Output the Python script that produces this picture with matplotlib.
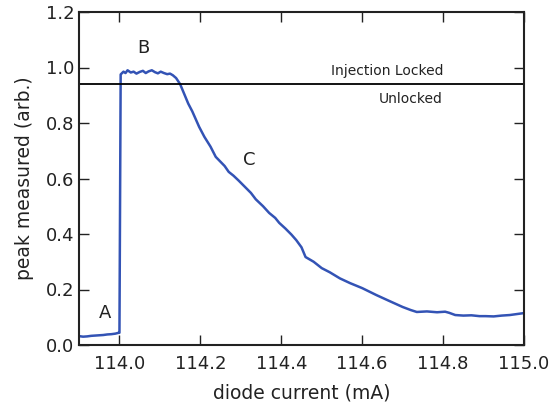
import matplotlib
matplotlib.use("Agg")
import matplotlib.pyplot as plt

current_mA = [113.900, 113.910, 113.920, 113.930, 113.940, 113.950, 113.960, 113.970,
              113.980, 113.990, 113.998, 114.000, 114.003, 114.010, 114.015, 114.020,
              114.028, 114.035, 114.042, 114.050, 114.058, 114.065, 114.072, 114.080,
              114.088, 114.095, 114.102, 114.110, 114.118, 114.125, 114.132, 114.140,
              114.150, 114.160, 114.170, 114.180, 114.197, 114.210, 114.225, 114.238,
              114.250, 114.260, 114.270, 114.282, 114.295, 114.310, 114.325, 114.337,
              114.355, 114.370, 114.385, 114.395, 114.410, 114.425, 114.437, 114.450,
              114.460, 114.480, 114.500, 114.520, 114.545, 114.570, 114.600, 114.635,
              114.665, 114.700, 114.720, 114.735, 114.760, 114.785, 114.805, 114.815,
              114.830, 114.850, 114.870, 114.890, 114.905, 114.925, 114.945, 114.965,
              114.985, 115.000]
peak = [0.032, 0.030, 0.031, 0.033, 0.034, 0.035, 0.036, 0.038,
        0.039, 0.041, 0.044, 0.044, 0.975, 0.985, 0.980, 0.990,
        0.982, 0.985, 0.978, 0.984, 0.988, 0.980, 0.986, 0.990,
        0.983, 0.979, 0.985, 0.980, 0.976, 0.978, 0.972, 0.962,
        0.940, 0.905, 0.870, 0.842, 0.786, 0.750, 0.715, 0.678,
        0.660, 0.645, 0.624, 0.610, 0.592, 0.570, 0.548, 0.525,
        0.500, 0.476, 0.458, 0.440, 0.420, 0.398, 0.378, 0.352,
        0.317, 0.300, 0.277, 0.262, 0.240, 0.223, 0.205, 0.180,
        0.160, 0.137, 0.126, 0.119, 0.121, 0.118, 0.120, 0.116,
        0.108, 0.106, 0.107, 0.104, 0.104, 0.103, 0.106, 0.108,
        0.112, 0.115]

threshold = 0.94
x_ticks = [114.0, 114.2, 114.4, 114.6, 114.8, 115.0]
y_ticks = [0.0, 0.2, 0.4, 0.6, 0.8, 1.0, 1.2]
region_labels = ["A", "B", "C"]
region_x = [113.965, 114.06, 114.32]
region_y = [0.115, 1.07, 0.667]

fig = plt.figure(figsize=(5.51, 4.05), dpi=100)
ax = fig.add_axes([79/551, 1 - 345/405, (524 - 79)/551, (345 - 12)/405])

ax.plot(current_mA, peak, color="#3353b5", lw=1.8)
ax.axhline(threshold, color="black", lw=1.3)

ax.set_xlim(113.9, 115.0)
ax.set_ylim(0.0, 1.2)
ax.set_xticks(x_ticks)
ax.set_yticks(y_ticks)
ax.set_xticklabels([f"{t:.1f}" for t in x_ticks])
ax.set_yticklabels([f"{t:.1f}" for t in y_ticks])
ax.tick_params(direction="in", length=7, width=1, top=True, right=True,
               labelsize=13, colors="#222222")
ax.tick_params(axis="x", pad=7.5)
ax.tick_params(axis="y", pad=3.5)
for s in ax.spines.values():
    s.set_linewidth(1.5)
    s.set_color("#222222")

for lbl, lx, ly in zip(region_labels, region_x, region_y):
    ax.text(lx, ly, lbl, fontsize=13, color="#222222", ha="center", va="center")

ax.text(114.8, 0.987, "Injection Locked", fontsize=10, color="#222222", ha="right", va="center")
ax.text(114.8, 0.886, "Unlocked", fontsize=10, color="#222222", ha="right", va="center")

ax.set_xlabel("diode current (mA)", fontsize=13.5, color="#222222", labelpad=7)
ax.set_ylabel("peak measured (arb.)", fontsize=13.5, color="#222222", labelpad=8.5)

fig.savefig("out.png", dpi=100)
